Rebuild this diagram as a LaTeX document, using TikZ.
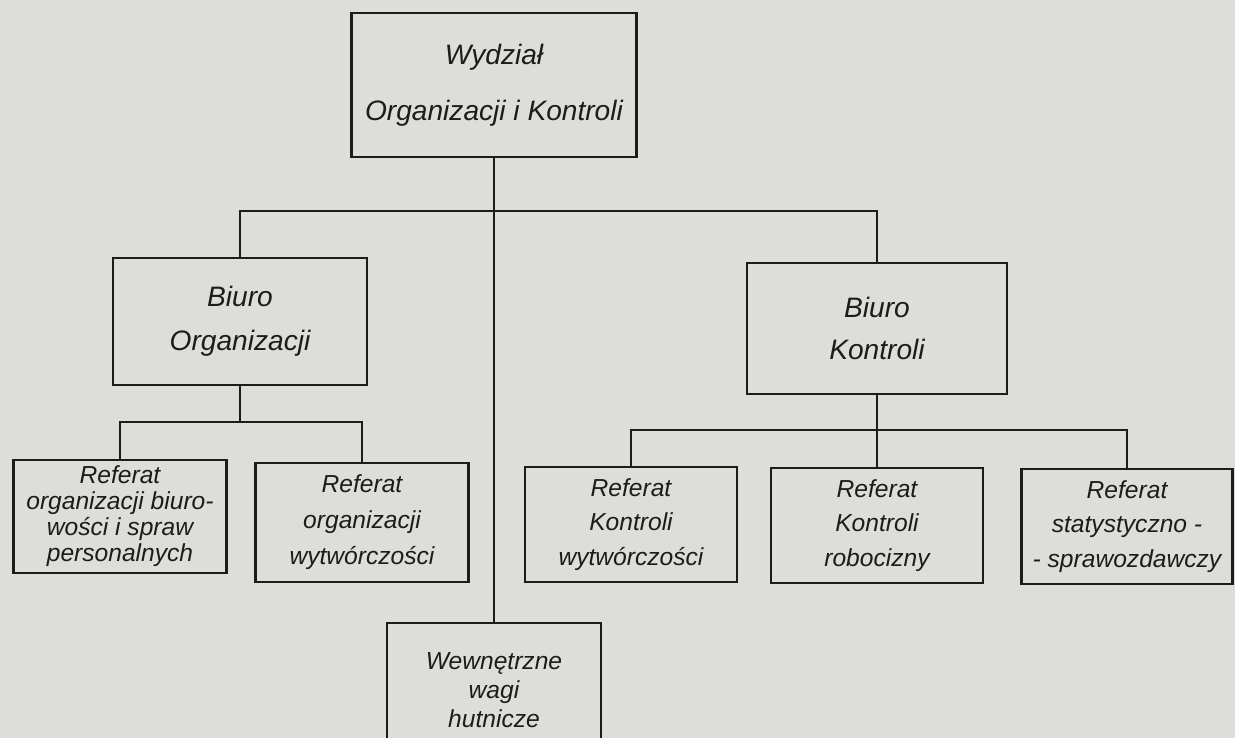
\documentclass[tikz,border=0pt]{standalone}
\usepackage{fontspec}
\setmainfont{Liberation Sans}
\usetikzlibrary{shapes}
\pgfdeclarelayer{edgelayer}
\pgfdeclarelayer{nodelayer}
\pgfsetlayers{edgelayer,nodelayer,main}
\definecolor{paper}{RGB}{221,221,217}
\definecolor{ink}{RGB}{28,28,28}
\tikzstyle{none}=[inner sep=0pt]
\tikzstyle{box}=[rectangle, draw=ink, text=ink, fill=paper, line width=1.6pt, align=center, inner sep=0pt]
\tikzstyle{head}=[box, font=\itshape\fontsize{16}{25}\selectfont]
\tikzstyle{unit}=[box, font=\itshape\fontsize{14}{19.5}\selectfont]
\tikzstyle{link}=[draw=ink, line width=0.85pt]

\begin{document}
\begin{tikzpicture}
	\useasboundingbox (0, 0) rectangle (24.7, -14.76);
	\begin{pgfonlayer}{nodelayer}
		\node [style=head, font=\itshape\fontsize{16}{32}\selectfont, minimum width=5.7cm, minimum height=2.88cm] (0) at (9.88, -1.7) {Wydział\\Organizacji i Kontroli};
		\node [style=head, minimum width=5.08cm, minimum height=2.54cm] (1) at (4.8, -6.43) {Biuro\\Organizacji};
		\node [style=head, font=\itshape\fontsize{16}{24}\selectfont, minimum width=5.2cm, minimum height=2.62cm] (2) at (17.54, -6.57) {Biuro\\Kontroli};
		\node [style=unit, font=\itshape\fontsize{14}{14.8}\selectfont, minimum width=4.26cm, minimum height=2.26cm] (3) at (2.4, -10.33) {Referat\\organizacji biuro-\\wości i spraw\\personalnych};
		\node [style=unit, font=\itshape\fontsize{14}{20.5}\selectfont, minimum width=4.26cm, minimum height=2.38cm] (4) at (7.24, -10.45) {Referat\\organizacji\\wytwórczości};
		\node [style=unit, minimum width=4.24cm, minimum height=2.3cm] (5) at (12.62, -10.49) {Referat\\Kontroli\\wytwórczości};
		\node [style=unit, minimum width=4.24cm, minimum height=2.3cm] (6) at (17.54, -10.51) {Referat\\Kontroli\\robocizny};
		\node [style=unit, minimum width=4.22cm, minimum height=2.3cm] (7) at (22.54, -10.53) {Referat\\statystyczno -\\- sprawozdawczy};
		\node [style=unit, font=\itshape\fontsize{14}{16.5}\selectfont, minimum width=4.28cm, minimum height=2.68cm] (8) at (9.88, -13.8) {Wewnętrzne\\wagi\\hutnicze};
		\node [style=none] (9) at (4.8, -4.22) {};
		\node [style=none] (10) at (17.54, -4.22) {};
		\node [style=none] (11) at (2.4, -8.44) {};
		\node [style=none] (12) at (7.24, -8.44) {};
		\node [style=none] (13) at (4.8, -8.44) {};
		\node [style=none] (14) at (12.62, -8.6) {};
		\node [style=none] (15) at (22.54, -8.6) {};
	\end{pgfonlayer}
	\begin{pgfonlayer}{edgelayer}
		\fill [paper] (0, 0) rectangle (24.7, -14.76);
		\draw [style=link] (0.south) to (8.north);
		\draw [style=link] (1.north) to (9.center) to (10.center) to (2.north);
		\draw [style=link] (1.south) to (13.center);
		\draw [style=link] (3.north) to (11.center) to (12.center) to (4.north);
		\draw [style=link] (2.south) to (6.north);
		\draw [style=link] (5.north) to (14.center) to (15.center) to (7.north);
	\end{pgfonlayer}
\end{tikzpicture}
\end{document}
